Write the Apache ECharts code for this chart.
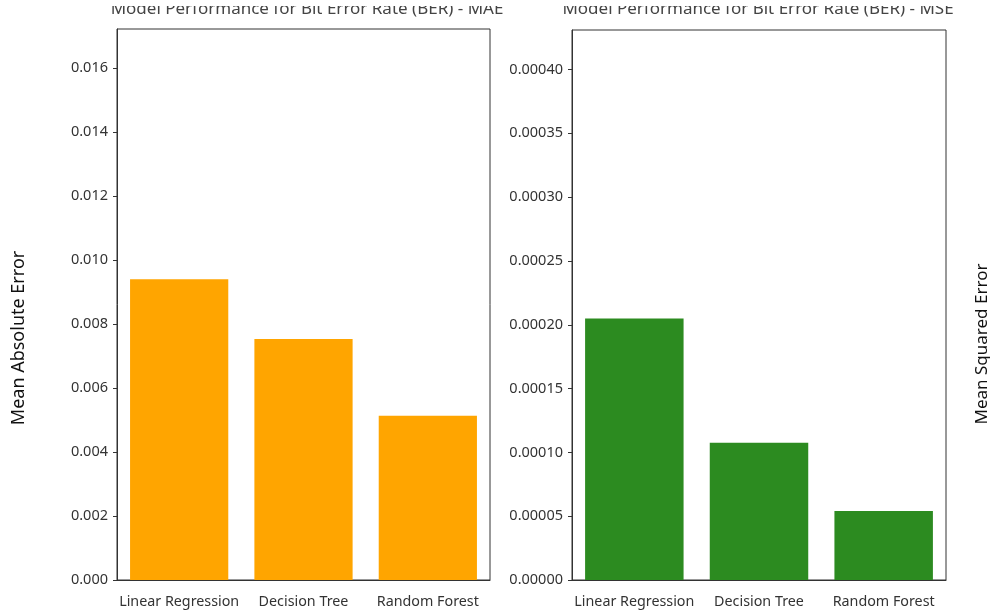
<!DOCTYPE html>
<html><head><meta charset="utf-8">
<script src="https://cdn.jsdelivr.net/npm/echarts@6/dist/echarts.min.js"></script>
<style>html,body{margin:0;padding:0;background:#fff}#c{width:990px;height:615px}</style>
</head><body><div id="c"></div>
<script>
const categories = ['Linear Regression', 'Decision Tree', 'Random Forest'];
const maeValues = [0.0094, 0.00753, 0.00513];
const mseValues = [0.000205, 0.0001075, 0.000054];
const titles = ['Model Performance for Bit Error Rate (BER) - MAE', 'Model Performance for Bit Error Rate (BER) - MSE'];
const yNames = ['Mean Absolute Error', 'Mean Squared Error'];

const font = 'Noto Sans';
const chart = echarts.init(document.getElementById('c'), null, {renderer: 'canvas'});
const axisLine = {show: true, lineStyle: {color: '#333', width: 1}};
const xLabel = {fontFamily: font, fontSize: 14.3, color: '#333', margin: 15, interval: 0, hideOverlap: false};
chart.setOption({
  animation: false,
  title: [
    {text: titles[0], left: 302, top: -4, textAlign: 'center', textStyle: {fontFamily: font, fontSize: 17, fontWeight: 'normal', color: '#444'}},
    {text: titles[1], left: 753, top: -4, textAlign: 'center', textStyle: {fontFamily: font, fontSize: 17, fontWeight: 'normal', color: '#444'}}
  ],
  grid: [
    {left: 117, right: 500, top: 29, bottom: 35, show: true, borderColor: '#333', borderWidth: 1, backgroundColor: '#fff'},
    {left: 572, right: 44, top: 30, bottom: 35, show: true, borderColor: '#333', borderWidth: 1, backgroundColor: '#fff'}
  ],
  xAxis: [
    {type: 'category', gridIndex: 0, data: categories, axisLine: axisLine, axisTick: {show: false}, axisLabel: xLabel},
    {type: 'category', gridIndex: 1, data: categories, axisLine: axisLine, axisTick: {show: false}, axisLabel: xLabel}
  ],
  yAxis: [
    {type: 'value', gridIndex: 0, min: 0, max: 0.01722, interval: 0.002, splitLine: {show: false},
     axisLine: axisLine, axisTick: {show: true, length: 4, lineStyle: {color: '#333'}},
     axisLabel: {fontFamily: font, fontSize: 14.5, color: '#333', showMaxLabel: false, margin: 9, formatter: v => v.toFixed(3)}},
    {type: 'value', gridIndex: 1, min: 0, max: 0.000431, interval: 0.00005, splitLine: {show: false},
     axisLine: axisLine, axisTick: {show: true, length: 4, lineStyle: {color: '#333'}},
     axisLabel: {fontFamily: font, fontSize: 14.5, color: '#333', showMaxLabel: false, margin: 9, formatter: v => v.toFixed(5)}}
  ],
  graphic: [
    {type: 'rect', left: 0, top: 0, z: 100, shape: {width: 990, height: 6}, style: {fill: '#fff'}},
    {type: 'text', x: 19, y: 338, rotation: Math.PI / 2,
     style: {text: yNames[0], fontFamily: font, fontSize: 18, fill: '#111', align: 'center', verticalAlign: 'middle'}},
    {type: 'text', x: 982, y: 344, rotation: Math.PI / 2,
     style: {text: yNames[1], fontFamily: font, fontSize: 17, fill: '#111', align: 'center', verticalAlign: 'middle'}}
  ],
  series: [
    {type: 'bar', xAxisIndex: 0, yAxisIndex: 0, data: maeValues, barWidth: '79%', itemStyle: {color: '#FFA500'}},
    {type: 'bar', xAxisIndex: 1, yAxisIndex: 1, data: mseValues, barWidth: '79%', itemStyle: {color: '#2C8B20'}}
  ]
});
</script></body></html>
